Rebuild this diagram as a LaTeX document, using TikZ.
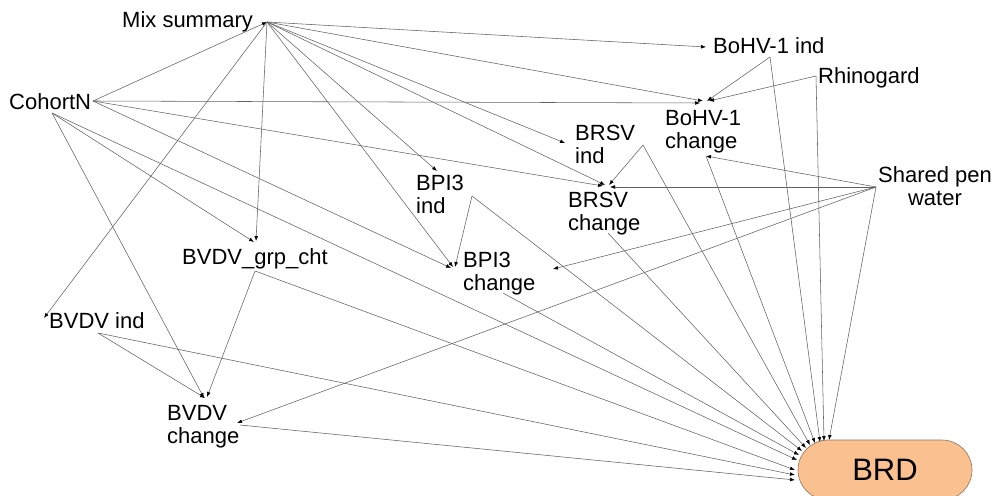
\documentclass[tikz,border=0pt]{standalone}
\usepackage{fontspec}
\setmainfont{Liberation Sans}
\usetikzlibrary{arrows.meta}
\definecolor{brdfill}{HTML}{FAC090}
\definecolor{brdline}{HTML}{8C7560}
\begin{document}
\begin{tikzpicture}[x=1pt,y=-1pt,
  lbl/.style={font=\fontsize{22}{23}\selectfont, inner sep=0pt, anchor=base west, align=left},
  lblc/.style={font=\fontsize{22}{23}\selectfont, inner sep=0pt, anchor=base, align=center},
  link/.style={draw=black!62, line width=0.55pt, -{Latex[length=5pt,width=3.8pt,color=black]}},
  brdbox/.style={draw=brdline, line width=0.6pt, fill=brdfill, rounded corners=30pt,
    minimum width=174pt, minimum height=60pt, inner sep=0pt,
    font=\fontsize{31}{33}\selectfont}
]
\useasboundingbox (0,0) rectangle (995,495);

% ---------- nodes (multi-line nodes anchored at the baseline of their last line) ----------
\node[brdbox] (brd) at (885,470) {BRD};
\node[lbl] (ms)  at (122,28)  {Mix summary};
\node[lbl] (cn)  at (9,109)   {CohortN};
\node[lbl] (bi)  at (713,54)  {BoHV-1 ind};
\node[lbl] (rh)  at (818,83)  {Rhinogard};
\node[lbl] (bc)  at (665,148) {BoHV-1\\change};
\node[lbl] (rsi) at (575,163) {BRSV\\ind};
\node[lbl] (rsc) at (568,230) {BRSV\\change};
\node[lblc] (spw) at (935,205) {Shared pen\\water};
\node[lbl] (pi)  at (416,213) {BPI3\\ind};
\node[lbl] (pc)  at (463,290) {BPI3\\change};
\node[lbl] (gc)  at (182,264) {BVDV\_grp\_cht};
\node[lbl] (vi)  at (49,328)  {BVDV ind};
\node[lbl] (vc)  at (167,443) {BVDV\\change};

% ---------- ports ----------
\coordinate (ms-o)  at (267,22);
\coordinate (cn-r)  at (93,101);
\coordinate (cn-b)  at (52,113);
\coordinate (bi-in) at (706,47);
\coordinate (bi-o)  at (770,57);
\coordinate (rh-o)  at (816,76);
\coordinate (bc-i1) at (700,103);
\coordinate (bc-i2) at (703,101);
\coordinate (bc-i3) at (707,101);
\coordinate (bc-i4) at (709,101);
\coordinate (bc-o)  at (706,156);
\coordinate (rsi-in) at (565,143);
\coordinate (rsi-o) at (643,145);
\coordinate (rsc-i1) at (603,186);
\coordinate (rsc-i2) at (605,185);
\coordinate (rsc-i3) at (609,185);
\coordinate (rsc-i4) at (610,187);
\coordinate (rsc-o) at (608,233);
\coordinate (pi-in) at (437,171);
\coordinate (pi-o)  at (472,196);
\coordinate (pc-i1) at (451,268);
\coordinate (pc-i2) at (453,267);
\coordinate (pc-i3) at (455,267);
\coordinate (pc-i4) at (553,269);
\coordinate (pc-o)  at (503,293);
\coordinate (gc-i1) at (254,242);
\coordinate (gc-i2) at (256,241);
\coordinate (gc-o)  at (255,271);
\coordinate (vi-in) at (44,318);
\coordinate (vi-o)  at (98,333);
\coordinate (vc-i1) at (204,398);
\coordinate (vc-i2) at (205,398);
\coordinate (vc-i3) at (207,397);
\coordinate (vc-i4) at (237,423);
\coordinate (vc-o)  at (240,425);
\coordinate (spw-o) at (876,187);
% arrival points on BRD
\coordinate (brd-1)  at (795,480);
\coordinate (brd-2)  at (795,475);
\coordinate (brd-3)  at (795,470);
\coordinate (brd-4)  at (797,460);
\coordinate (brd-5)  at (799,455);
\coordinate (brd-6)  at (802,451);
\coordinate (brd-7)  at (806,448);
\coordinate (brd-8)  at (810,445);
\coordinate (brd-9)  at (815,443);
\coordinate (brd-10) at (820,442);
\coordinate (brd-11) at (824,441);
\coordinate (brd-12) at (829,440);

% ---------- connectors ----------
\draw[link] (cn-r) -- (ms-o);
\draw[link] (ms-o) -- (bi-in);
\draw[link] (ms-o) -- (bc-i2);
\draw[link] (ms-o) -- (rsi-in);
\draw[link] (ms-o) -- (rsc-i2);
\draw[link] (ms-o) -- (pi-in);
\draw[link] (ms-o) -- (pc-i2);
\draw[link] (ms-o) -- (gc-i2);
\draw[link] (ms-o) -- (vi-in);
\draw[link] (cn-r) -- (bc-i1);
\draw[link] (cn-r) -- (rsc-i1);
\draw[link] (cn-r) -- (pc-i1);
\draw[link] (cn-b) -- (gc-i1);
\draw[link] (cn-b) -- (vc-i1);
\draw[link] (bi-o) -- (bc-i3);
\draw[link] (rh-o) -- (bc-i4);
\draw[link] (rsi-o) -- (rsc-i3);
\draw[link] (pi-o) -- (pc-i3);
\draw[link] (gc-o) -- (vc-i3);
\draw[link] (vi-o) -- (vc-i2);
\draw[link] (spw-o) -- (bc-o);
\draw[link] (spw-o) -- (rsc-i4);
\draw[link] (spw-o) -- (pc-i4);
\draw[link] (spw-o) -- (vc-i4);
% into BRD
\draw[link] (vc-o)  -- (brd-1);
\draw[link] (vi-o)  -- (brd-2);
\draw[link] (gc-o)  -- (brd-3);
\draw[link] (cn-b)  -- (brd-4);
\draw[link] (pc-o)  -- (brd-5);
\draw[link] (pi-o)  -- (brd-6);
\draw[link] (rsc-o) -- (brd-7);
\draw[link] (rsi-o) -- (brd-8);
\draw[link] (bc-o)  -- (brd-9);
\draw[link] (bi-o)  -- (brd-10);
\draw[link] (rh-o)  -- (brd-11);
\draw[link] (spw-o) -- (brd-12);
\end{tikzpicture}
\end{document}
